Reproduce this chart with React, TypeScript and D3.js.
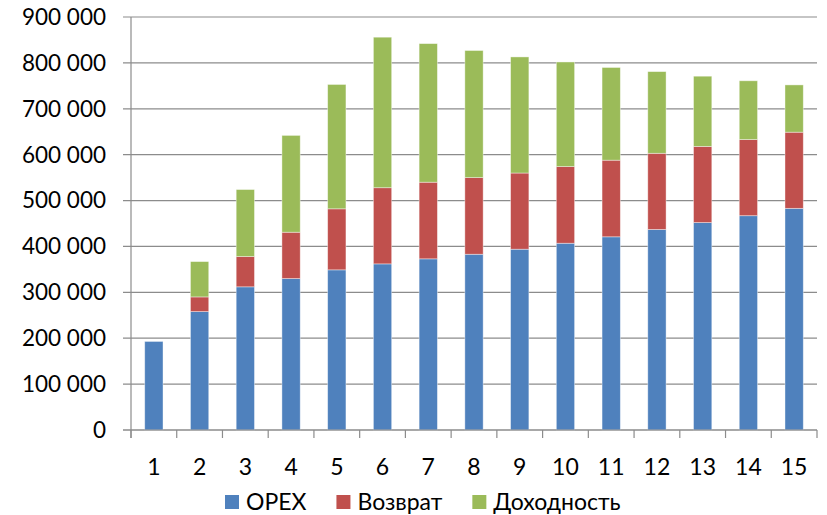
import React, { useEffect, useRef } from "react";
import * as d3 from "d3";

const categories = ["1", "2", "3", "4", "5", "6", "7", "8", "9", "10", "11", "12", "13", "14", "15"];
const opex = [193000, 258000, 312000, 330000, 349000, 362000, 373000, 383000, 394000, 407000, 421000, 437000, 452000, 467000, 483000];
const vozvrat = [0, 32000, 66000, 101000, 133000, 166000, 167000, 167000, 166000, 167000, 167000, 166000, 166000, 166000, 166000];
const dohodnost = [0, 77000, 146000, 211000, 271000, 328000, 302000, 277000, 253000, 228000, 202000, 178000, 153000, 128000, 103000];
const seriesNames = ["OPEX", "Возврат", "Доходность"];
const yTicks = [0, 100000, 200000, 300000, 400000, 500000, 600000, 700000, 800000, 900000];

const colors = ["#4F81BD", "#C0504D", "#9BBB59"];
const W = 827;
const H = 515;
const FONT = "Lato, 'Open Sans', sans-serif";

export default function App() {
  const ref = useRef<SVGSVGElement>(null);

  useEffect(() => {
    const svg = d3.select(ref.current);
    svg.selectAll("*").remove();

    const left = 131;
    const right = 817;
    const top = 17;
    const bottom = 430;

    const rows = categories.map((c, i) => ({
      cat: c,
      OPEX: opex[i],
      "Возврат": vozvrat[i],
      "Доходность": dohodnost[i],
    }));
    const stacked = d3.stack<any>().keys(seriesNames)(rows);

    const x = d3.scaleBand().domain(categories).range([left, right]).paddingInner(0.6).paddingOuter(0.3);
    const y = d3.scaleLinear().domain([0, 900000]).range([bottom, top]);
    const fmt = (v: number) => d3.format(",")(v).replace(/,/g, " ");

    // gridlines
    svg
      .append("g")
      .selectAll("line")
      .data(yTicks)
      .join("line")
      .attr("x1", left - 8)
      .attr("x2", right)
      .attr("y1", (d) => y(d))
      .attr("y2", (d) => y(d))
      .attr("stroke", "#8c8c8c")
      .attr("stroke-width", 1.2);

    // y labels
    svg
      .append("g")
      .selectAll("text")
      .data(yTicks)
      .join("text")
      .attr("x", 106)
      .attr("y", (d) => y(d))
      .attr("dy", "0.35em")
      .attr("text-anchor", "end")
      .attr("font-family", FONT)
      .attr("font-size", 22.5)
      .attr("fill", "#000")
      .text((d) => fmt(d));

    // bars
    svg
      .append("g")
      .selectAll("g")
      .data(stacked)
      .join("g")
      .attr("fill", (d, i) => colors[i])
      .selectAll("rect")
      .data((d) => d)
      .join("rect")
      .attr("x", (d: any) => x(d.data.cat)!)
      .attr("width", x.bandwidth())
      .attr("y", (d) => y(d[1]))
      .attr("height", (d) => y(d[0]) - y(d[1]))
      .attr("stroke", "rgba(255,255,255,0.5)")
      .attr("stroke-width", (d) => (d[1] - d[0] > 0 ? 0.8 : 0));

    // axes lines and ticks
    const step = (right - left) / categories.length;
    const axis = svg.append("g").attr("stroke", "#8c8c8c").attr("stroke-width", 1.2);
    axis.append("line").attr("x1", left).attr("x2", left).attr("y1", top).attr("y2", bottom + 8);
    axis.append("line").attr("x1", left - 8).attr("x2", right).attr("y1", bottom).attr("y2", bottom);
    axis
      .selectAll("line.xt")
      .data(d3.range(categories.length + 1))
      .join("line")
      .attr("class", "xt")
      .attr("x1", (i) => left + i * step)
      .attr("x2", (i) => left + i * step)
      .attr("y1", bottom)
      .attr("y2", bottom + 8);

    // x labels
    svg
      .append("g")
      .selectAll("text")
      .data(categories)
      .join("text")
      .attr("x", (d) => x(d)! + x.bandwidth() / 2)
      .attr("y", 467)
      .attr("dy", "0.35em")
      .attr("text-anchor", "middle")
      .attr("font-family", FONT)
      .attr("font-size", 23)
      .text((d) => d);

    // legend
    const legend = svg.append("g");
    let lx = 225;
    seriesNames.forEach((name, i) => {
      legend
        .append("rect")
        .attr("x", lx)
        .attr("y", 495)
        .attr("width", 14)
        .attr("height", 14)
        .attr("fill", colors[i]);
      const t = legend
        .append("text")
        .attr("x", lx + 21)
        .attr("y", 502)
        .attr("dy", "0.35em")
        .attr("font-family", FONT)
        .attr("font-size", 23)
        .text(name);
      const w = (t.node() as SVGTextElement).getComputedTextLength();
      lx = lx + 21 + w + 30;
    });
  }, []);

  return (
    <svg
      ref={ref}
      width={W}
      height={H}
      style={{ position: "absolute", left: 0, top: 0, background: "#fff" }}
    />
  );
}
